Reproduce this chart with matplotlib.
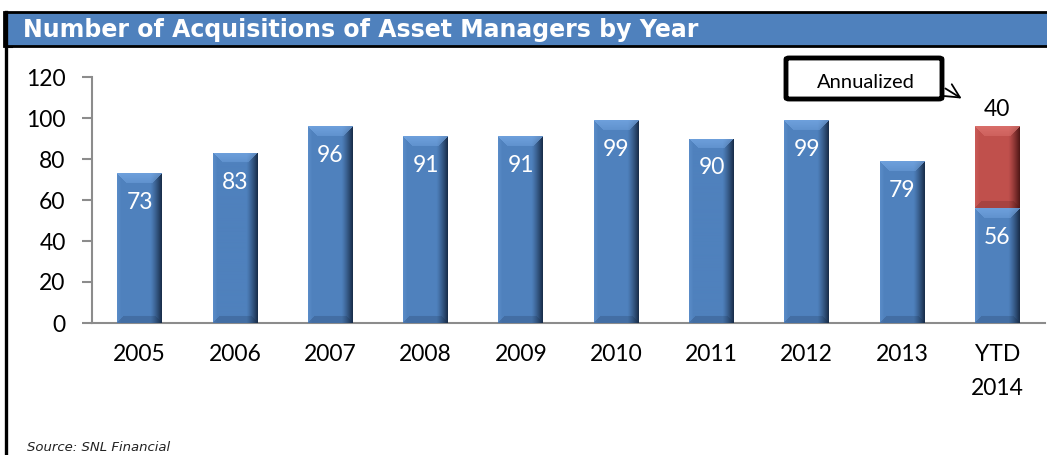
import numpy as np
import matplotlib
matplotlib.use("Agg")
import matplotlib.pyplot as plt
from matplotlib.patches import Rectangle, FancyBboxPatch
from matplotlib.lines import Line2D

categories = ["2005", "2006", "2007", "2008", "2009", "2010", "2011", "2012", "2013", "YTD\n2014"]
acquisitions = [73, 83, 96, 91, 91, 99, 90, 99, 79, 56]
annualized_extra = [0, 0, 0, 0, 0, 0, 0, 0, 0, 40]
yticks = [0, 20, 40, 60, 80, 100, 120]
title = "Number of Acquisitions of Asset Managers by Year"
source = "Source: SNL Financial"
note = "Annualized"

W, H, DPI = 1047, 455, 100
fig = plt.figure(figsize=(W / DPI, H / DPI), dpi=DPI)
fig.patch.set_facecolor("white")

def fx(px):
    return px / W

def fy(py):
    return 1 - py / H

# title bar
fig.patches.append(Rectangle((fx(4), fy(46)), 1 - fx(4) + 0.01, fy(12) - fy(46),
                             transform=fig.transFigure, facecolor="#4F81BD",
                             edgecolor="black", linewidth=2, zorder=0))
fig.lines.append(Line2D([fx(5.5), fx(5.5)], [fy(12), 0], transform=fig.transFigure,
                        color="black", linewidth=2.4))
fig.lines.append(Line2D([fx(6), fx(12)], [fy(47), fy(47)], transform=fig.transFigure,
                        color="black", linewidth=1.5))
fig.text(fx(23), fy(29.5), title, color="white", fontsize=17, fontweight="bold",
         family="DejaVu Sans", va="center", ha="left")
fig.text(fx(27), fy(441), source, fontsize=9.5, style="italic", family="DejaVu Sans",
         va="top", ha="left", color="#222222")

ax_l, ax_r, ax_t, ax_b = 92, 1045, 77, 323
ax = fig.add_axes([fx(ax_l), fy(ax_b), fx(ax_r) - fx(ax_l), fy(ax_t) - fy(ax_b)])
ax.set_xlim(-0.5, len(categories) - 0.5)
ax.set_ylim(0, 120)
for s in ["top", "right"]:
    ax.spines[s].set_visible(False)
for s in ["left", "bottom"]:
    ax.spines[s].set_color("#8c8c8c")
    ax.spines[s].set_linewidth(1.5)

font = "Lato"
ax.set_yticks(yticks)
ax.set_yticklabels([str(v) for v in yticks], fontsize=16.5, family=font)
x = np.arange(len(categories))
ax.set_xticks(x)
ax.set_xticklabels(categories, fontsize=16.5, family=font, linespacing=1.75)
ax.tick_params(axis="y", length=7, width=1.5, color="#8c8c8c", pad=12)
ax.tick_params(axis="x", length=0, pad=15)

bar_w = 0.47
ppu_y = (ax_b - ax_t) / 120.0
ppu_x = (ax_r - ax_l) / len(categories)


def bevel_image(hpx, wpx, base, light, dark):
    base = np.array(base) / 255.0
    light = np.array(light) / 255.0
    dark = np.array(dark) / 255.0
    img = np.ones((hpx, wpx, 3)) * base
    xs = np.arange(wpx)
    # left slight highlight
    left = np.clip(1 - xs / 4.0, 0, 1) * 0.25
    img = img * (1 - left[None, :, None]) + light * left[None, :, None]
    # right dark shading
    right = np.clip((xs - (wpx - 12)) / 11.0, 0, 1) ** 1.2 * 0.9
    img = img * (1 - right[None, :, None]) + dark * right[None, :, None]
    # bottom chamfer darker
    nb = 7
    for r in range(nb):
        row = hpx - 1 - r
        if row < 0:
            break
        c0, c1 = r, wpx - r
        img[row, c0:c1] = img[row, c0:c1] * 0.8 + dark * 0.2
    # top chamfer lighter trapezoid
    nt = 10
    for r in range(min(nt, hpx)):
        c0, c1 = r, wpx - r
        t = 0.75 - 0.35 * r / nt
        img[r, c0:c1] = img[r, c0:c1] * (1 - t) + light * t
    return np.clip(img, 0, 1)


def draw_bevel_bars(bars, base, light, dark):
    for b in bars:
        x0, y0 = b.get_x(), b.get_y()
        w, h = b.get_width(), b.get_height()
        if h <= 0:
            continue
        hpx = max(int(round(h * ppu_y)), 2)
        wpx = max(int(round(w * ppu_x)), 2)
        img = bevel_image(hpx, wpx, base, light, dark)
        im = ax.imshow(img, extent=(x0, x0 + w, y0, y0 + h), origin="upper",
                       aspect="auto", interpolation="bilinear", zorder=3)
        im.set_clip_path(b)
    ax.set_xlim(-0.5, len(categories) - 0.5)
    ax.set_ylim(0, 120)


blue_bars = ax.bar(x, acquisitions, width=bar_w, color="#4F81BD", zorder=2)
red_bars = ax.bar(x, annualized_extra, width=bar_w, bottom=acquisitions,
                  color="#C0504D", zorder=2)
draw_bevel_bars(blue_bars, (79, 129, 189), (120, 170, 230), (20, 38, 64))
draw_bevel_bars(red_bars, (192, 80, 77), (225, 120, 115), (70, 18, 18))

for xi, v in zip(x, acquisitions):
    ax.annotate(str(v), (xi, v), xytext=(0, -21), textcoords="offset points",
                ha="center", va="center", color="white", fontsize=16.5, family=font,
                zorder=5)
for xi, v, e in zip(x, acquisitions, annualized_extra):
    if e:
        ax.annotate(str(e), (xi, v + e), xytext=(0, 12), textcoords="offset points",
                    ha="center", va="center", color="black", fontsize=16.5, family=font,
                    zorder=5, annotation_clip=False)

# annualized callout box
box = FancyBboxPatch((fx(786), fy(99)), fx(942) - fx(786), fy(58) - fy(99),
                     boxstyle="round,pad=0,rounding_size=0.003",
                     transform=fig.transFigure, facecolor="white", edgecolor="black",
                     linewidth=3.5, zorder=6)
fig.patches.append(box)
fig.text(fx(866), fy(83), note, fontsize=14.5, family=font, ha="center", va="center",
         zorder=7)
ax.annotate("", xy=(fx(964), fy(100)), xycoords="figure fraction",
            xytext=(fx(943), fy(87)), textcoords="figure fraction",
            arrowprops=dict(arrowstyle="->,head_length=1.0,head_width=0.5",
                            color="black", lw=1.3), annotation_clip=False)

fig.savefig("out.png", dpi=DPI)
